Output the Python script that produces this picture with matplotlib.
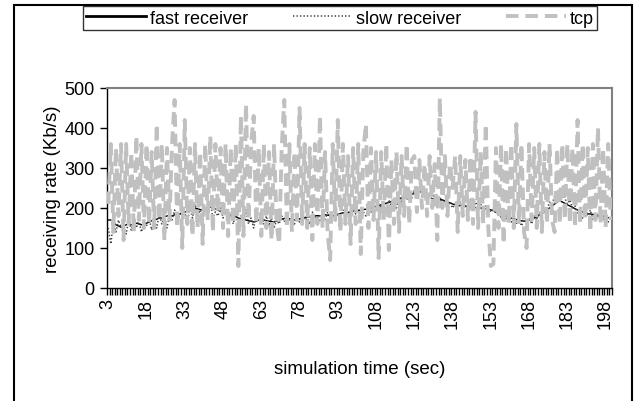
import matplotlib
matplotlib.use("Agg")
import matplotlib.pyplot as plt
from matplotlib.lines import Line2D
from matplotlib.patches import Rectangle
import numpy as np

plt.rcParams["font.family"] = ["Liberation Sans", "DejaVu Sans"]
plt.rcParams["lines.scale_dashes"] = False

# simulation time categories 3..200
t = list(range(3, 201))
label_ticks = list(range(3, 201, 15))

tcp = [
    210, 360, 140, 350, 180, 360, 120, 360, 160, 340, 140, 380, 170, 360, 150,
    360, 160, 340, 150, 410, 170, 360, 120, 350, 170, 360, 470, 150, 360, 100,
    420, 160, 350, 130, 360, 150, 340, 110, 360, 170, 380, 140, 360, 190, 350,
    150, 360, 130, 350, 160, 360, 55, 430, 130, 460, 170, 360, 430, 160, 350,
    130, 360, 150, 340, 120, 360, 160, 110, 350, 470, 150, 360, 140, 340, 170,
    450, 160, 360, 150, 350, 120, 360, 160, 430, 150, 340, 140, 70, 360, 170,
    420, 140, 360, 160, 330, 110, 350, 160, 360, 85, 340, 410, 150, 350, 170,
    340, 75, 340, 170, 360, 95, 320, 160, 340, 140, 330, 180, 360, 160, 320,
    330, 190, 320, 200, 310, 180, 330, 200, 310, 120, 475, 200, 330, 180, 310,
    250, 330, 140, 330, 180, 320, 170, 330, 160, 440, 150, 340, 160, 410, 150,
    55, 60, 350, 150, 360, 110, 350, 160, 360, 150, 410, 160, 360, 140, 100,
    360, 170, 350, 150, 360, 140, 340, 160, 360, 170, 140, 350, 160, 360, 170,
    360, 160, 350, 150, 420, 160, 360, 170, 350, 140, 360, 170, 400, 160, 350,
    150, 360, 170,
]

slow = [
    150, 110, 165, 140, 170, 150, 160, 135, 170, 145, 165, 150, 170, 140, 160,
    155, 175, 145, 170, 150, 185, 160, 175, 150, 180, 170, 195, 165, 185, 175,
    190, 165, 200, 175, 210, 180, 195, 170, 200, 185, 215, 175, 190, 180, 200,
    175, 195, 165, 185, 160, 190, 155, 180, 170, 195, 160, 175, 150, 180, 165,
    185, 160, 180, 155, 175, 150, 170, 160, 180, 165, 185, 170, 175, 160, 180,
    165, 185, 170, 175, 160, 190, 175, 180, 165, 185, 170, 190, 175, 180, 170,
    185, 175, 195, 170, 190, 180, 200, 185, 195, 175, 190, 180, 200, 190, 205,
    195, 210, 200, 215, 195, 220, 205, 210, 200, 230, 215, 240, 220, 235, 225,
    245, 230, 250, 235, 240, 225, 235, 220, 230, 215, 225, 210, 220, 205, 215,
    200, 210, 195, 215, 200, 210, 190, 205, 195, 215, 200, 210, 195, 205, 200,
    190, 200, 185, 195, 175, 190, 170, 185, 165, 180, 160, 175, 155, 170, 165,
    175, 160, 180, 170, 190, 180, 200, 195, 215, 210, 230, 220, 245, 235, 225,
    210, 220, 200, 205, 185, 195, 175, 190, 180, 195, 170, 185, 175, 190, 170,
    180, 165, 175,
]

fast = [
    170, 170, 165, 158, 155, 152, 155, 158, 160, 158, 160, 162, 160, 158, 160,
    162, 165, 168, 170, 172, 175, 175, 178, 180, 182, 180, 183, 185, 185, 188,
    190, 192, 195, 197, 200, 198, 196, 195, 197, 200, 202, 200, 198, 195, 192,
    190, 188, 185, 182, 180, 178, 175, 173, 172, 170, 168, 167, 165, 167, 170,
    172, 170, 168, 167, 166, 165, 167, 170, 172, 174, 175, 173, 172, 170, 171,
    173, 175, 176, 178, 178, 180, 180, 181, 180, 182, 183, 182, 181, 180, 182,
    184, 186, 188, 187, 189, 190, 192, 193, 194, 195, 196, 197, 198, 200, 202,
    204, 206, 208, 210, 212, 214, 216, 218, 220, 222, 225, 228, 230, 232, 235,
    238, 240, 242, 240, 238, 236, 234, 232, 229, 226, 223, 220, 218, 215, 213,
    210, 208, 207, 206, 205, 204, 203, 202, 202, 201, 200, 200, 199, 198, 197,
    195, 193, 190, 188, 185, 182, 180, 178, 175, 173, 171, 170, 168, 167, 168,
    170, 172, 175, 178, 182, 186, 190, 195, 200, 205, 210, 215, 218, 215, 212,
    208, 205, 202, 198, 195, 192, 190, 188, 186, 185, 184, 183, 182, 180, 180,
    178, 176, 175,
]

W, H = 635, 402
fig = plt.figure(figsize=(W / 100, H / 100), dpi=100)
ax = fig.add_axes([107 / W, 1 - 289 / H, (612 - 107) / W, (289 - 89) / H])

tcp_style = dict(color="#c0c0c0", lw=2.8, dashes=(9, 5))
slow_style = dict(color="#404040", lw=1.1, dashes=(1, 1.5))
fast_style = dict(color="black", lw=1.0)

ax.plot(t, fast, zorder=2, **fast_style)
ax.plot(t, slow, zorder=3, **slow_style)
ax.plot(t, tcp, zorder=4, **tcp_style)

ax.set_xlim(2.5, 200.5)
ax.set_ylim(0, 500)
ax.set_yticks(range(0, 501, 100))
ax.set_xticks(label_ticks)
ax.set_xticklabels([str(v) for v in label_ticks], rotation=90)
ax.set_xticks(np.arange(2.5, 201, 1), minor=True)
ax.tick_params(axis="x", which="major", length=0, pad=7, labelsize=13)
ax.tick_params(axis="x", which="minor", length=5, width=1, color="black", direction="out")
ax.tick_params(axis="y", length=5, width=1, color="black", labelsize=13, pad=4)

for s in ["top", "right"]:
    ax.spines[s].set_color("#808080")
    ax.spines[s].set_linewidth(1.5)
for s in ["left", "bottom"]:
    ax.spines[s].set_color("black")
    ax.spines[s].set_linewidth(1)

ax.set_ylabel("receiving rate (Kb/s)", fontsize=13.5, labelpad=2)
fig.text(360 / W, 1 - 370 / H, "simulation time (sec)", ha="center", va="center", fontsize=13.5)

handles = [
    Line2D([], [], **fast_style),
    Line2D([], [], **slow_style),
    Line2D([], [], **tcp_style),
]
leg = fig.legend(handles, ["fast receiver", "slow receiver", "tcp"],
                 loc="center", bbox_to_anchor=(340 / W, 1 - 19 / H), ncol=3,
                 frameon=True, fancybox=False, fontsize=13, borderpad=0.2,
                 handlelength=3.3, handletextpad=0.2, columnspacing=2.5,
                 borderaxespad=0)
leg.get_frame().set_edgecolor("black")
leg.get_frame().set_linewidth(1)
leg.get_lines()[0].set_linewidth(2)

# chart area border
fig.patches.append(Rectangle((14 / W, -0.05), (632 - 14) / W, 1.05 - 6 / H,
                             transform=fig.transFigure, fill=False,
                             edgecolor="black", lw=1.5))

fig.savefig("out.png", dpi=100)
